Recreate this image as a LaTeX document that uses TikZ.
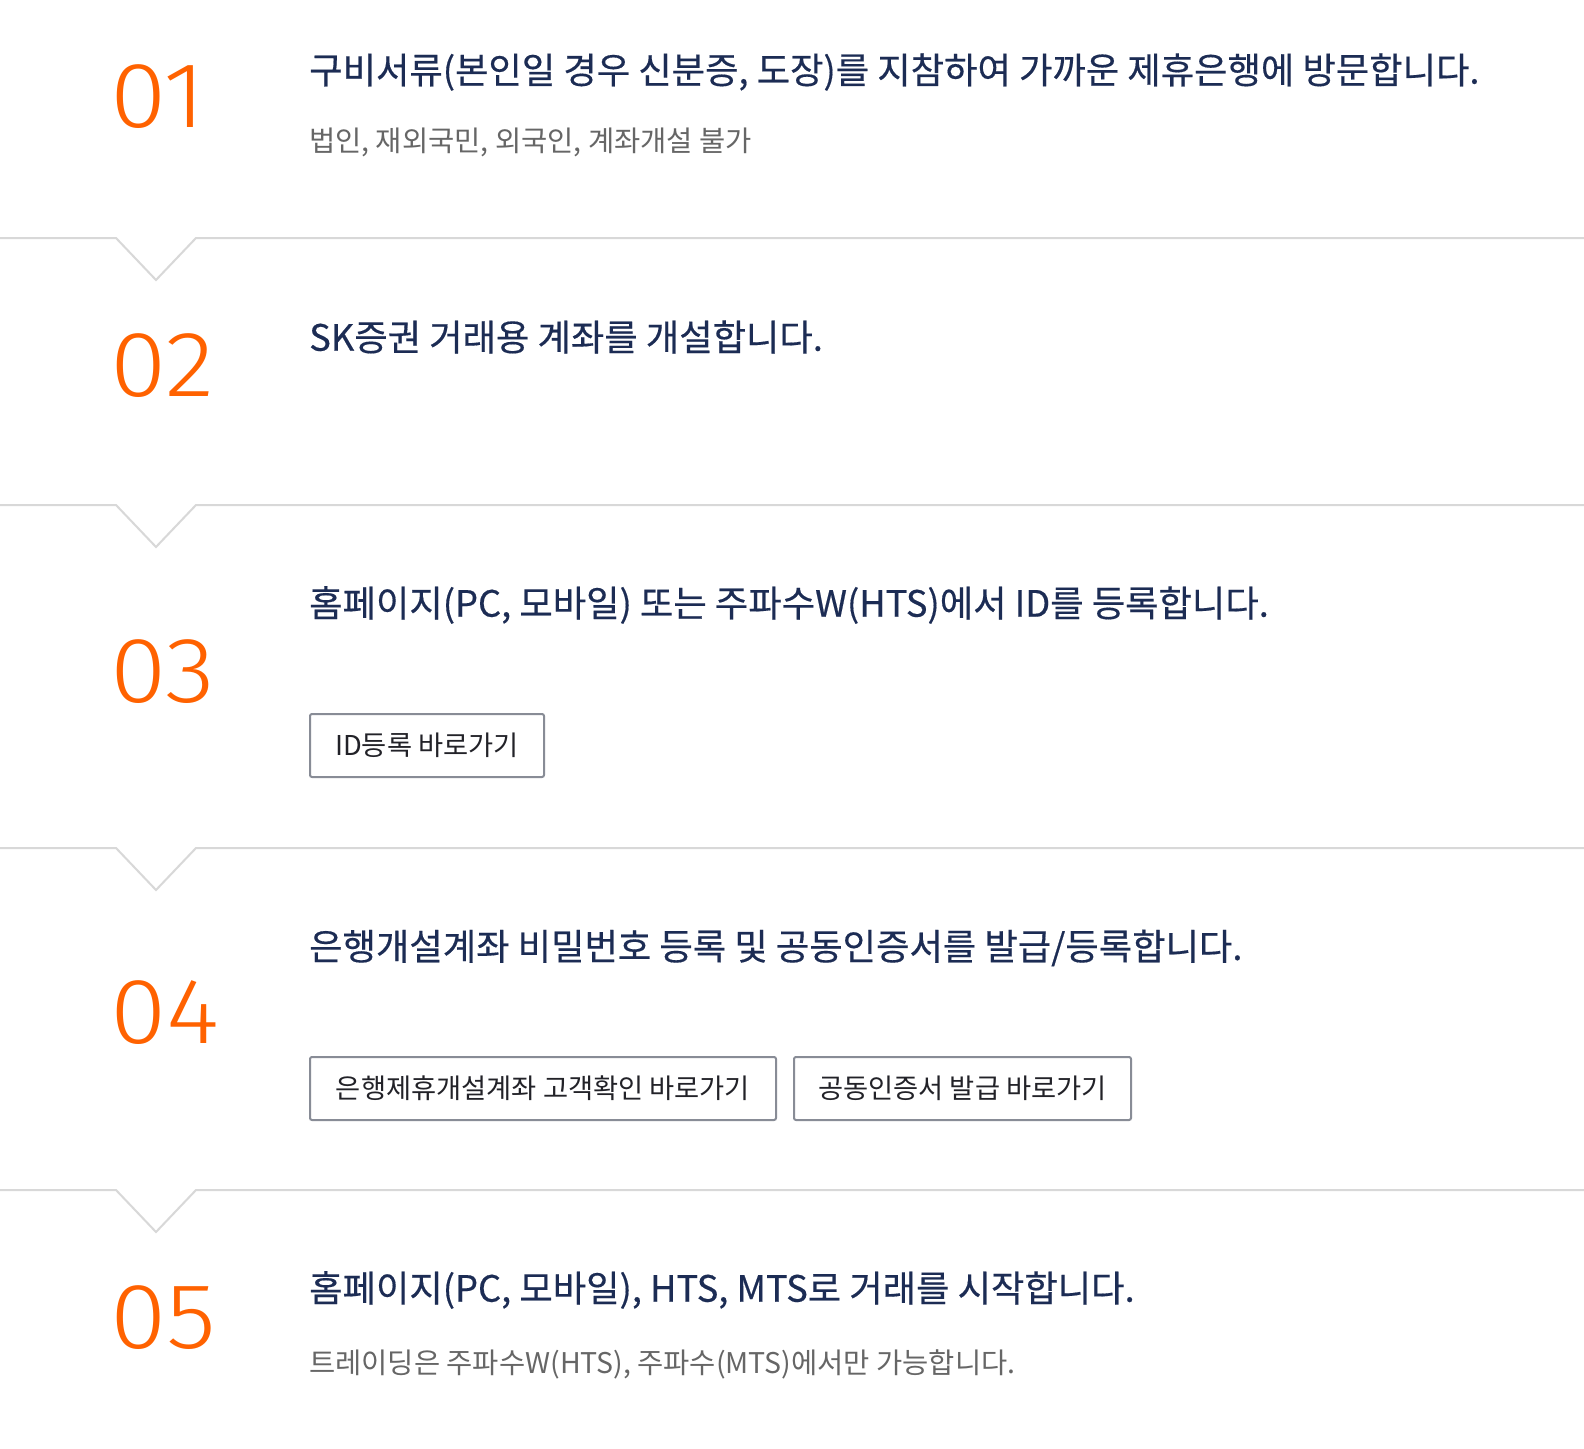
\documentclass[tikz,border=0pt]{standalone}
\usepackage{fontspec}
\setmainfont{Noto Sans CJK KR}
\newfontfamily\headfont[FakeBold=0.4]{Noto Sans CJK KR}
\newfontfamily\numfont[FakeStretch=1.1]{Fira Sans Light}
\usepackage{xcolor}
\usetikzlibrary{positioning,fit,calc}

\definecolor{steporange}{RGB}{255,98,0}
\definecolor{stepnavy}{RGB}{28,44,84}
\definecolor{subgray}{RGB}{102,102,102}
\definecolor{linegray}{RGB}{216,216,216}
\definecolor{btngray}{RGB}{136,140,150}
\definecolor{btntext}{RGB}{34,34,40}

\begin{document}
\begin{tikzpicture}[x=1pt,y=-1pt,divider/.style = {draw=linegray,line width=2pt}]
					\tikzset{num/.style={anchor=west,inner sep=0pt,text=steporange,font=\numfont\fontsize{93}{93}\selectfont}}
					\tikzset{head/.style={anchor=west,inner sep=0pt,text=stepnavy,font=\headfont\fontsize{36.3}{42}\selectfont}}
					\tikzset{subline/.style={anchor=west,inner sep=0pt,text=subgray,font=\fontsize{28.5}{32}\selectfont}}
					\tikzset{btn/.style={draw=btngray,line width=2pt,rounded corners=2pt,text=btntext,font=\fontsize{27.3}{30}\selectfont,minimum height=63pt,inner sep=0pt,anchor=north west}}

					\fill[white] (0,0) rectangle (1584,1448);
					\useasboundingbox (0,0) rectangle (1584,1448);

					% Trennlinien
					\foreach \y in {238,505,848,1190}
						\draw[divider] (0,\y) -- (116,\y) -- (156,{\y+42}) -- (196,\y) -- (1584,\y);

					% Schritt 1
					\node[num] (n1) at (110,97) {01};
					\node[head] (h1) at (309,72) {구비서류(본인일 경우 신분증, 도장)를 지참하여 가까운 제휴은행에 방문합니다.};
					\node[subline] (s1) at (309,142) {법인, 재외국민, 외국인, 계좌개설 불가};

					% Schritt 2
					\node[num] (n2) at (110,366) {02};
					\node[head] (h2) at (309,337) {SK증권 거래용 계좌를 개설합니다.};

					% Schritt 3
					\node[num] (n3) at (110,672) {03};
					\node[head] (h3) at (309,605) {홈페이지(PC, 모바일) 또는 주파수W(HTS)에서 ID를 등록합니다.};
					\node[btn,minimum width=234pt] (b3) at (309,713) {ID등록 바로가기};

					% Schritt 4
					\node[num] (n4) at (110,1013) {04};
					\node[head] (h4) at (309,948) {은행개설계좌 비밀번호 등록 및 공동인증서를 발급/등록합니다.};
					\node[btn,minimum width=466pt] (b4a) at (309,1056) {은행제휴개설계좌 고객확인 바로가기};
					\node[btn,minimum width=337pt,right=16pt of b4a.north east,anchor=north west] (b4b) {공동인증서 발급 바로가기};

					% Schritt 5
					\node[num] (n5) at (110,1318) {05};
					\node[head] (h5) at (309,1290) {홈페이지(PC, 모바일), HTS, MTS로 거래를 시작합니다.};
					\node[subline] (s5) at (309,1364) {트레이딩은 주파수W(HTS), 주파수(MTS)에서만 가능합니다.};

				\end{tikzpicture}
\end{document}
